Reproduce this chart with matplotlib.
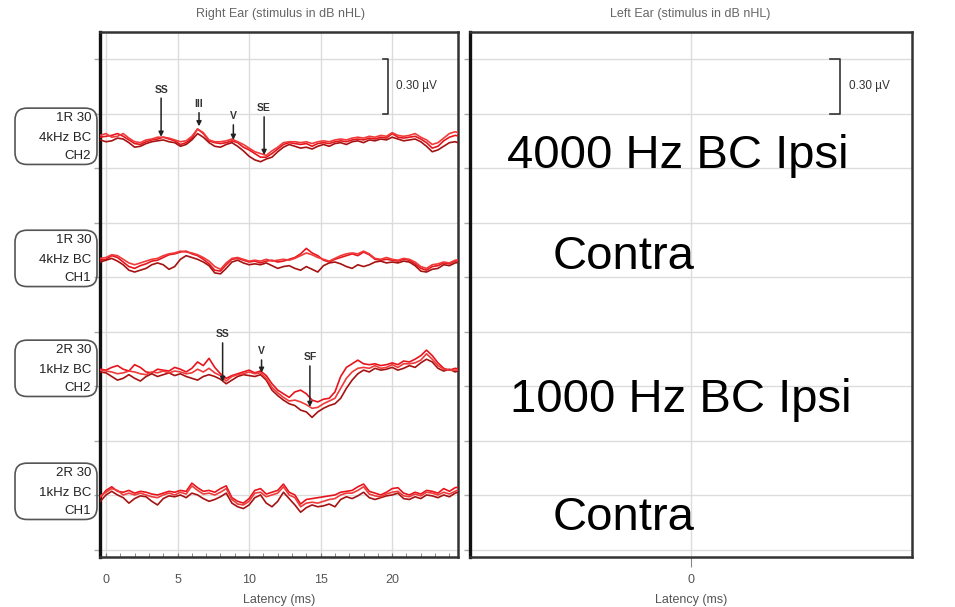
import numpy as np
import matplotlib.pyplot as plt
from matplotlib.patches import FancyBboxPatch
from matplotlib.transforms import blended_transform_factory, IdentityTransform

plt.rcParams['font.family'] = ['Liberation Sans', 'DejaVu Sans']

# ABR-Kurven, Werte in nV relativ zur Grundlinie, Abtastung alle 0.4 ms von -0.4 bis 24.8 ms
ch1_a = [15, 20, 25, 35, 20, 0, -20, -25, -10, 0, 5, 15, 5, -5, -25, -15, 10, 60, 35, -5,
         -15, -20, -15, -5, -15, -40, -55, -75, -95, -95, -75, -50, -25, -15, -20, -25, -20, -35, -20, -15,
         -20, -10, -5, -10, 0, 5, 0, 10, 5, 15, 10, 35, 15, 10, 15, 20, 5, -15, -45, -35,
         -5, 15, 25, 20]
ch1_b = [0, -10, -5, 10, 5, -15, -40, -35, -20, -10, -5, 0, -10, -15, -35, -25, 0, 35, 15, -15,
         -35, -40, -25, -15, -35, -60, -90, -110, -120, -105, -95, -65, -40, -25, -35, -45, -40, -50, -35, -25,
         -35, -20, -15, -25, -10, -5, -15, 0, -5, 5, 0, 15, 5, -5, 0, 5, -10, -35, -65, -55,
         -35, -15, -10, -20]
ch1_c = [25, 35, 15, 20, 35, 10, -10, -15, 0, 5, 15, 15, 10, 0, -10, -5, 20, 60, 40, 0,
         -10, -10, -5, 5, -10, -25, -45, -65, -75, -85, -60, -40, -15, -10, -10, -15, -10, -20, -10, -5,
         -10, 0, 5, 0, 10, 15, 10, 20, 15, 25, 20, 40, 25, 20, 25, 35, 15, 0, -25, -15,
         10, 35, 45, 35]

ch2_a = [10, 15, 35, 25, 0, -25, -35, -20, -10, 5, 10, 25, 40, 45, 55, 60, 45, 35, 15, -10,
         -45, -50, -15, 15, 20, 10, 0, 5, -5, 5, 10, 0, 5, 15, 25, 45, 75, 50, 35, 10,
         0, 15, 25, 35, 45, 35, 55, 40, 15, 10, 15, 10, 5, 15, 10, -10, -35, -45, -25, -20,
         -5, -10, 5, 10]
ch2_b = [0, 10, 20, 5, -15, -45, -55, -45, -35, -15, -5, -15, -40, -25, 15, 35, 25, 15, 0, -20,
         -60, -65, -35, 0, 10, -5, -15, -10, -15, -5, -20, -35, -25, -20, -35, -45, -25, -40, -55, -20,
         -5, 0, -10, -25, -35, -15, -25, -15, 0, 5, -5, 0, -5, 5, 0, -20, -50, -55, -40, -35,
         -15, -20, -5, 0]
ch2_c = [20, 25, 40, 35, 15, -5, -15, -5, 5, 15, 20, 35, 45, 50, 60, 55, 50, 40, 25, 5,
         -25, -40, -5, 20, 25, 15, 5, 10, 5, 15, 5, 10, 15, 10, 20, 35, 50, 40, 25, 15,
         5, 20, 35, 45, 50, 45, 60, 45, 20, 15, 25, 15, 10, 20, 15, 0, -25, -35, -15, -10,
         0, -5, 10, 15]

ch3_a = [15, 10, 25, 35, 15, 5, 40, 25, 0, -5, 15, 10, 5, 25, 15, 0, 20, 55, 35, 75,
         25, -10, -35, -20, -10, 0, 10, -5, 5, -20, -65, -100, -120, -140, -110, -100, -120, -155, -165, -150,
         -145, -110, -25, 25, 45, 65, 45, 40, 45, 35, 40, 50, 40, 60, 55, 70, 90, 120, 90, 50,
         20, 10, 20, 15]
ch3_b = [0, -5, -25, -45, -35, -15, -35, -50, -25, -10, -25, -15, -5, -20, -10, -25, -35, -45, -25, -15,
         -25, -40, -65, -45, -25, -15, -20, -25, -15, -45, -100, -130, -155, -175, -185, -210, -220, -250, -220, -200,
         -185, -175, -145, -90, -45, -10, 10, 0, 20, 10, 15, 25, 10, 20, 35, 25, 50, 70, 55, 20,
         5, 15, 0, 10]
ch3_c = [10, 5, 0, -10, -5, 5, 0, -10, -15, 0, -5, 5, -5, 5, 0, -10, -5, 15, 0, 20,
         -5, -20, -50, -25, -15, -10, 0, -10, -5, -35, -85, -115, -140, -160, -155, -165, -180, -200, -195, -175,
         -160, -145, -90, -35, 0, 20, 25, 20, 35, 20, 25, 40, 25, 45, 45, 50, 65, 100, 70, 35,
         15, 10, 10, 15]

ch4_a = [-15, 25, 45, 20, 15, 25, 10, 20, 15, 5, 0, 10, 20, 15, 25, 20, 65, 40, 20, 25,
         15, 35, 50, -15, -35, -45, -20, 25, 35, 5, 15, 25, 60, 15, 0, -50, -25, -20, -15, -10,
         -5, 0, 15, 20, 25, 45, 60, 20, 10, 0, 15, 35, 40, 10, 0, 15, 5, 25, 20, 10,
         35, 20, 40, 45]
ch4_b = [-35, 0, 20, 0, -15, -45, -20, -5, -10, -35, -55, -20, -5, -10, 0, -15, 10, 0, -20, -35,
         -25, -10, 10, -45, -65, -75, -55, -15, 0, -45, -65, -35, 15, -20, -55, -95, -70, -55, -65, -60,
         -50, -65, -25, -10, -20, -5, 15, -15, -25, -15, -5, 0, 10, -20, -25, -10, -20, 0, -5, -15,
         0, -10, 10, 20]
ch4_c = [-5, 15, 35, 25, 0, 10, 0, 10, 0, -10, -15, 0, 10, 0, 15, 5, 50, 25, 5, 10,
         0, 15, 35, -25, -50, -55, -35, 10, 15, -10, 0, 10, 45, 0, -15, -65, -45, -40, -45, -35,
         -25, -20, 0, 10, 10, 25, 45, 5, -5, -10, 5, 15, 20, -5, -10, 5, -5, 15, 10, 0,
         15, 5, 20, 35]

# Grundlinien der Kanäle in µV
baselines = [2.257, 1.585, 0.98, 0.303]
box_labels = [["1R 30", "4kHz BC", "CH2"],
              ["1R 30", "4kHz BC", "CH1"],
              ["2R 30", "1kHz BC", "CH2"],
              ["2R 30", "1kHz BC", "CH1"]]
traces = [[ch1_a, ch1_b, ch1_c], [ch2_a, ch2_b, ch2_c],
          [ch3_a, ch3_b, ch3_c], [ch4_a, ch4_b, ch4_c]]

# Peak-Marker: Name, Latenz (ms), Amplitude an der Pfeilspitze (µV)
peaks_ch1 = [("SS", 3.85, 0.017), ("III", 6.5, 0.075), ("V", 8.9, 0.0), ("SE", 11.05, -0.083)]
peaks_ch3 = [("SS", 8.15, -0.055), ("V", 10.87, -0.005), ("SF", 14.25, -0.193)]
# Pfeilanfang über der Grundlinie (µV)
arrow_top_ch1 = [0.23, 0.15, 0.083, 0.127]
arrow_top_ch3 = [0.16, 0.066, 0.033]

overlay_texts = ["4000 Hz BC Ipsi", "Contra", "1000 Hz BC Ipsi", "Contra"]

fig = plt.figure(figsize=(9.55, 6.07), dpi=100)
W, H = 955, 607
axL = fig.add_axes([100 / W, 1 - 557 / H, 358 / W, 525 / H])
axR = fig.add_axes([470 / W, 1 - 557 / H, 442 / W, 525 / H])

ylim = (-0.0385, 2.851)
grid_c = '#dcdcdc'
for ax in (axL, axR):
    ax.set_ylim(*ylim)
    ax.set_yticks(np.arange(0, 2.8, 0.3))
    ax.set_yticklabels([])
    ax.tick_params(axis='y', length=4, color='#aaaaaa', width=1)
    ax.grid(True, axis='both', color=grid_c, lw=1)
    ax.set_axisbelow(True)
    for s in ax.spines.values():
        s.set_color('#333333')
        s.set_linewidth(1.8)
    ax.spines['left'].set_color('#111111')
    ax.spines['left'].set_linewidth(2.4)
    ax.set_xlabel("Latency (ms)", fontsize=9, color='#555555', labelpad=6)

axL.set_xlim(-0.42, 24.6)
axL.set_xticks([0, 5, 10, 15, 20])
axL.set_xticks(np.arange(0, 25, 1), minor=True)
axL.tick_params(axis='x', which='both', direction='in', length=3, color='#777777',
                labelsize=9, labelcolor='#555555', pad=12)
axL.grid(False, which='minor')

axR.set_xlim(-1, 1)
axR.set_xticks([0])
axR.tick_params(axis='x', direction='out', length=7, color='#888888',
                labelsize=9, labelcolor='#555555', pad=5)

colors = ['#e8141c', '#a51212', '#f03a3a']
for base, group in zip(baselines, traces):
    for vals, c in zip(group, colors):
        v = np.array(vals) / 1000.0
        t = np.linspace(-0.4, 24.8, len(v))
        axL.plot(t, base + v, color=c, lw=1.2, zorder=3)

# Peak-Pfeile
def draw_peaks(base, peaks, tops):
    for (name, lat, amp), top in zip(peaks, tops):
        axL.annotate('', xy=(lat, base + amp), xytext=(lat, base + top),
                     arrowprops=dict(arrowstyle='-|>', color='#222222', lw=1.1,
                                     mutation_scale=7, shrinkA=0, shrinkB=0), zorder=5)
        axL.text(lat, base + top + 0.02, name, ha='center', va='bottom',
                 fontsize=7.5, fontweight='bold', color='#333333', zorder=5)

draw_peaks(baselines[0], peaks_ch1, arrow_top_ch1)
draw_peaks(baselines[2], peaks_ch3, arrow_top_ch3)

# Skalenbalken 0.30 µV
axL.plot([19.35, 19.7, 19.7, 19.35], [2.7, 2.7, 2.4, 2.4], color='#333333', lw=1.2)
axL.text(20.25, 2.554, "0.30 µV", fontsize=8.5, color='#333333', va='center')
axR.plot([0.63, 0.674, 0.674, 0.63], [2.7, 2.7, 2.4, 2.4], color='#333333', lw=1.2)
axR.text(0.715, 2.554, "0.30 µV", fontsize=8.5, color='#333333', va='center')

# Kanal-Beschriftungen
blend = blended_transform_factory(fig.transFigure, axL.transData)
for base, lines in zip(baselines, box_labels):
    cy = base + 0.02
    y0 = axL.transData.transform((0, cy - 0.155))[1]
    y1 = axL.transData.transform((0, cy + 0.155))[1]
    box = FancyBboxPatch((15, y0), 82, y1 - y0,
                         boxstyle='round,pad=0,rounding_size=12',
                         transform=IdentityTransform(), fc='none', ec='#555555', lw=1.2)
    fig.patches.append(box)
    for line, dy in zip(lines, [0.099, -0.011, -0.11]):
        axL.text(91 / W, cy + dy, line, transform=blend, ha='right', va='center',
                 fontsize=9.5, color='#222222', clip_on=False)

# Titel
fig.text(280 / W, 1 - 17 / H, "Right Ear (stimulus in dB nHL)", ha='center', va='baseline',
         fontsize=9, color='#666666')
fig.text(690 / W, 1 - 17 / H, "Left Ear (stimulus in dB nHL)", ha='center', va='baseline',
         fontsize=9, color='#666666')

# große Beschriftungen
for txt, x, y in zip(overlay_texts, [507, 553, 510, 553], [168, 269, 412, 530]):
    fig.text(x / W, 1 - y / H, txt, ha='left', va='baseline', fontsize=34, color='black')

fig.savefig('out.png', dpi=100)
